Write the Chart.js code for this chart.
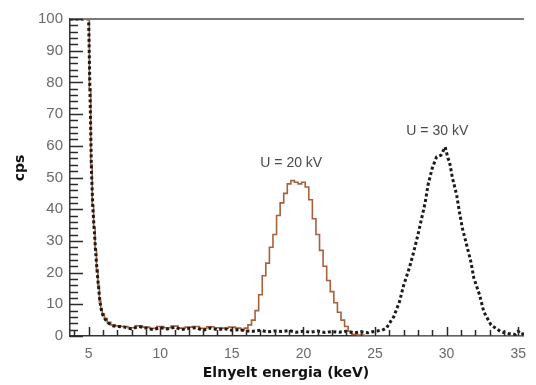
<!DOCTYPE html>
<html>
<head>
<meta charset="utf-8">
<script src="https://cdn.jsdelivr.net/npm/chart.js@4.4.1/dist/chart.umd.min.js"></script>
<style>
  html, body { margin: 0; padding: 0; background: #fff; }
  #wrap { width: 536px; height: 385px; }
</style>
</head>
<body>
<div id="wrap"><canvas id="c"></canvas></div>
<script>
// U = 30 kV spectrum (dotted black)
const energy30 = [3.7, 4.2, 4.6, 5.0, 5.1, 5.2, 5.3, 5.4, 5.5, 5.6, 5.7, 5.8, 5.9, 6.0, 6.2, 6.4, 6.7, 7.0,
  7.5, 8.0, 8.5, 9.0, 9.5, 10.0, 10.5, 11.0, 11.5, 12.0, 12.5, 13.0, 13.5, 14.0, 14.5, 15.0, 15.5,
  16.0, 16.5, 17.0, 17.5, 18.0, 18.5, 19.0, 19.5, 20.0, 20.5, 21.0, 21.5, 22.0, 22.5, 23.0, 23.5,
  24.0, 24.5, 25.0, 25.5, 25.8, 26.0, 26.3, 26.7, 27.0, 27.4, 27.7, 28.0, 28.2, 28.5, 28.7, 29.0,
  29.3, 29.6, 29.9, 30.1, 30.2, 30.4, 30.7, 30.9, 31.1, 31.4, 31.7, 31.9, 32.3, 32.6, 33.1, 33.8,
  34.3, 34.8, 35.0, 35.2, 35.4];
const cps30 = [100, 100, 100, 100, 76, 52, 40, 33, 26, 20, 15, 10.5, 8, 6.5, 5, 4, 3.2, 3,
  2.8, 2.2, 3, 2.5, 2, 2.6, 2.2, 2.8, 2, 2.4, 2.6, 1.8, 2.5, 2, 2.3, 1.8, 2,
  1.6, 1.5, 1.8, 1.3, 1.6, 1.4, 1.7, 1.2, 1.5, 1.2, 1.6, 1.1, 1.4, 1.2, 1.5, 1.0,
  1.3, 1.0, 1.5, 1.8, 2.5, 4, 6, 10.7, 16, 21.5, 26.5, 32, 36, 42, 47.6, 53,
  56.5, 57, 59.6, 56, 55, 50, 44.5, 39, 34, 28.7, 23.3, 18.3, 13, 7.6, 3.5, 1.3,
  0.8, 0.5, 1.5, 0.5, 0.8];

// U = 20 kV spectrum (stepped brown)
const energy20 = [3.7, 4.2, 4.6, 5.0, 5.1, 5.2, 5.3, 5.4, 5.5, 5.6, 5.7, 5.8, 5.9, 6.0, 6.2, 6.4, 6.7, 7.0,
  7.5, 8.0, 8.5, 9.0, 9.5, 10.0, 10.5, 11.0, 11.5, 12.0, 12.5, 13.0, 13.5, 14.0, 14.5, 15.0, 15.5,
  15.75, 16.0, 16.25, 16.5, 16.75, 17.0, 17.25, 17.5, 17.75, 18.0, 18.25, 18.5, 18.75, 19.0, 19.25,
  19.5, 19.75, 20.0, 20.25, 20.5, 20.75, 21.0, 21.25, 21.5, 21.75, 22.0, 22.25, 22.5, 22.75, 23.0,
  23.25, 23.5, 24.0, 24.5, 25.0, 30.0, 35.4];
const cps20 = [100, 100, 100, 100, 78, 54, 41, 34, 27, 21, 16, 11, 8.5, 7, 5.5, 4.3, 3.5, 3.2,
  3, 2.6, 3.2, 2.8, 2.4, 3, 2.6, 3.1, 2.5, 2.8, 3, 2.4, 2.9, 2.6, 2.5, 2.8, 2.5,
  2, 2.5, 3.5, 5, 8, 13, 19, 23, 28, 32, 38, 42, 45, 48, 49,
  48.5, 48, 48.5, 47, 43, 37, 32, 27, 22, 17.5, 14, 10.5, 7.5, 5, 3,
  1.5, 0.5, 0.3, 0, 0, 0, 0];

const xMin = 3.7, xMax = 35.4;
const xMinorStep = 1, xMajorStep = 5;
const yMinorStep = 2, yMajorStep = 10;

const labels = [
  { text: 'U = 20 kV', x: 19.15, y: 54.6 },
  { text: 'U = 30 kV', x: 29.35, y: 64.7 }
];

const toXY = (xs, ys) => xs.map((x, i) => ({ x: x, y: ys[i] }));

const decor = {
  id: 'decor',
  afterDraw(chart) {
    const ctx = chart.ctx;
    const a = chart.chartArea;
    const xs = chart.scales.x, ys = chart.scales.y;
    ctx.save();
    // frame top line
    ctx.strokeStyle = '#7a7a7a';
    ctx.lineWidth = 2;
    ctx.beginPath();
    ctx.moveTo(a.left, a.top);
    ctx.lineTo(a.right, a.top);
    ctx.stroke();
    // inward ticks
    ctx.strokeStyle = '#2b2b2b';
    ctx.lineWidth = 1.5;
    ctx.beginPath();
    for (let v = 0; v <= 100; v += yMinorStep) {
      const py = Math.round(ys.getPixelForValue(v)) + 0.5;
      const len = v % yMajorStep === 0 ? 13 : 8;
      ctx.moveTo(a.left, py);
      ctx.lineTo(a.left + len, py);
    }
    for (let v = Math.ceil(xMin); v <= xMax; v += xMinorStep) {
      const px = Math.round(xs.getPixelForValue(v)) + 0.5;
      const len = v % xMajorStep === 0 ? 9 : 6;
      ctx.moveTo(px, a.bottom);
      ctx.lineTo(px, a.bottom - len);
    }
    ctx.stroke();
    // annotations
    ctx.fillStyle = '#4a4a4a';
    ctx.font = '14px "Liberation Sans", Arial, sans-serif';
    ctx.textAlign = 'center';
    ctx.textBaseline = 'middle';
    labels.forEach(l => ctx.fillText(l.text, xs.getPixelForValue(l.x), ys.getPixelForValue(l.y)));
    // axis titles
    ctx.fillStyle = '#111';
    ctx.font = 'bold 14px "DejaVu Sans", Verdana, sans-serif';
    ctx.fillText('Elnyelt energia (keV)', 286, 373);
    ctx.translate(20, 168);
    ctx.rotate(-Math.PI / 2);
    ctx.fillText('cps', 0, 0);
    ctx.restore();
  }
};

new Chart(document.getElementById('c'), {
  type: 'line',
  data: {
    datasets: [
      {
        label: 'U = 30 kV',
        data: toXY(energy30, cps30),
        borderColor: '#1a1a1a',
        borderWidth: 3,
        borderDash: [3, 2.5],
        borderCapStyle: 'butt',
        pointRadius: 0,
        tension: 0,
        fill: false
      },
      {
        label: 'U = 20 kV',
        data: toXY(energy20, cps20),
        borderColor: '#a8603c',
        borderWidth: 1.6,
        stepped: 'middle',
        pointRadius: 0,
        fill: false
      }
    ]
  },
  options: {
    responsive: true,
    maintainAspectRatio: false,
    animation: false,
    layout: { padding: { top: 19, right: 0, left: 0, bottom: 0 } },
    plugins: {
      legend: { display: false },
      tooltip: { enabled: false }
    },
    scales: {
      x: {
        type: 'linear',
        min: xMin,
        max: xMax,
        afterFit: s => { s.height = 49; },
        grid: { display: false, drawTicks: false },
        border: { display: true, color: '#333', width: 1.5 },
        ticks: {
          stepSize: 5,
          includeBounds: false,
          padding: 10,
          color: '#6a6a6a',
          font: { family: '"Liberation Sans", Arial, sans-serif', size: 14 }
        }
      },
      y: {
        min: 0,
        max: 100,
        afterFit: s => { s.width = 70; },
        grid: { display: false, drawTicks: false },
        border: { display: true, color: '#333', width: 1.5 },
        ticks: {
          stepSize: 10,
          padding: 7,
          color: '#6a6a6a',
          font: { family: '"Liberation Sans", Arial, sans-serif', size: 15 }
        }
      }
    }
  },
  plugins: [decor]
});
</script>
</body>
</html>
